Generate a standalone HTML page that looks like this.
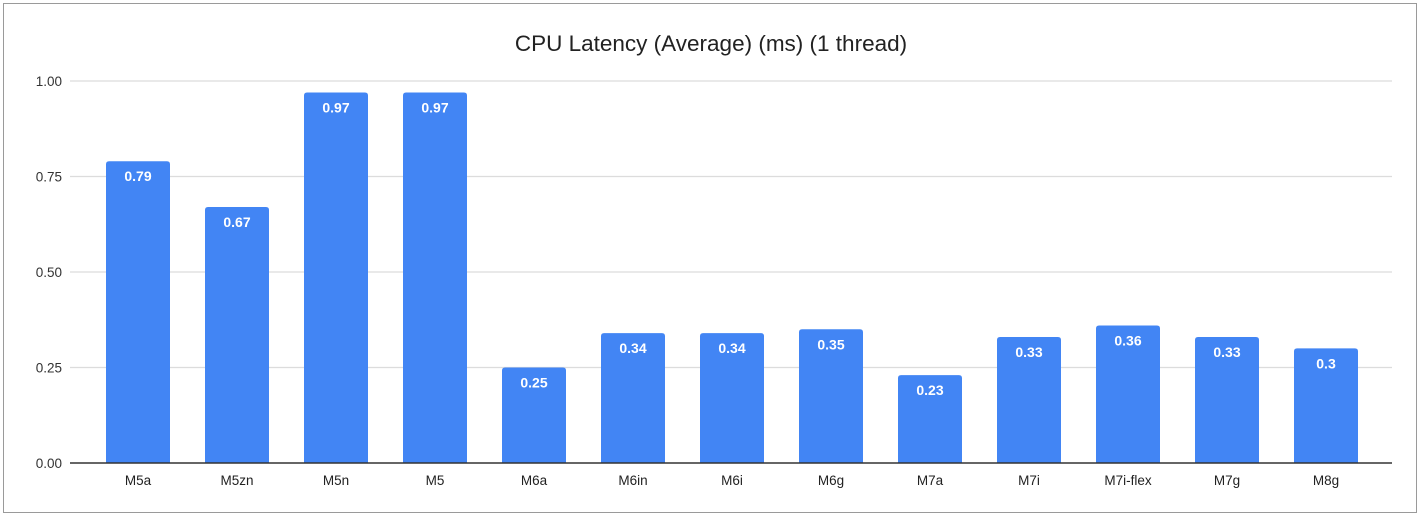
<!DOCTYPE html>
<html><head><meta charset="utf-8">
<style>
html,body{margin:0;padding:0;background:#fff;width:1421px;height:518px;overflow:hidden}
svg{display:block;font-family:"Liberation Sans","Noto Sans CJK SC",sans-serif}
</style></head>
<body>
<svg id="chart" width="1421" height="518">
  <rect x="3.5" y="3.5" width="1413" height="509" fill="#fff" stroke="#9a9a9a"/>
  <text x="711" y="51" text-anchor="middle" font-size="22.5" fill="#222">CPU Latency (Average) (ms) (1 thread)</text>
  <g id="grid"></g>
  <g id="bars"></g>
  <g id="xlabels"></g>
</svg>
<script>
const categories = ["M5a","M5zn","M5n","M5","M6a","M6in","M6i","M6g","M7a","M7i","M7i-flex","M7g","M8g"];
const values = [0.79,0.67,0.97,0.97,0.25,0.34,0.34,0.35,0.23,0.33,0.36,0.33,0.3];
const labels = ["0.79","0.67","0.97","0.97","0.25","0.34","0.34","0.35","0.23","0.33","0.36","0.33","0.3"];
const ticks = [0,0.25,0.5,0.75,1];
const tickLabels = ["0.00","0.25","0.50","0.75","1.00"];

const NS="http://www.w3.org/2000/svg";
const y0=463, pxPerUnit=382, plotL=70, plotR=1392, step=99, firstC=138, barW=64;
const yScale=v=>y0-v*pxPerUnit;
const xScale=i=>firstC+step*i;
function mk(tag,attrs){const e=document.createElementNS(NS,tag);for(const k in attrs)e.setAttribute(k,attrs[k]);return e;}
const grid=document.getElementById('grid'), bars=document.getElementById('bars'), xl=document.getElementById('xlabels');
ticks.forEach((t,i)=>{
  const y=yScale(t);
  if(i>0){
    const l=mk('line',{x1:plotL,x2:plotR,y1:y,y2:y,stroke:'#dcdcdc','stroke-width':1.2});
    
    
    grid.appendChild(l);
  }
  const tx=mk('text',{x:62,y:y+5,'text-anchor':'end','font-size':13.5,fill:'#333'});
  tx.textContent=tickLabels[i];
  
  
  grid.appendChild(tx);
});
categories.forEach((c,i)=>{
  const cx=xScale(i), top=yScale(values[i]);
  const r=mk('path',{d:`M${cx-barW/2},${y0} V${top+3} Q${cx-barW/2},${top} ${cx-barW/2+3},${top} H${cx+barW/2-3} Q${cx+barW/2},${top} ${cx+barW/2},${top+3} V${y0} Z`,fill:'#4285f4'});
  
  
  bars.appendChild(r);
  const vl=mk('text',{x:cx,y:top+20,'text-anchor':'middle','font-size':14,'font-weight':'bold',fill:'#fff'});
  vl.textContent=labels[i];
  
  
  bars.appendChild(vl);
  const t=mk('text',{x:cx,y:485,'text-anchor':'middle','font-size':13.5,fill:'#222'});
  t.textContent=c;
  
  
  xl.appendChild(t);
});
const ax=mk('line',{x1:plotL,x2:plotR,y1:y0,y2:y0,stroke:'#333','stroke-width':1.5});


xl.appendChild(ax);
</script>
</body></html>
